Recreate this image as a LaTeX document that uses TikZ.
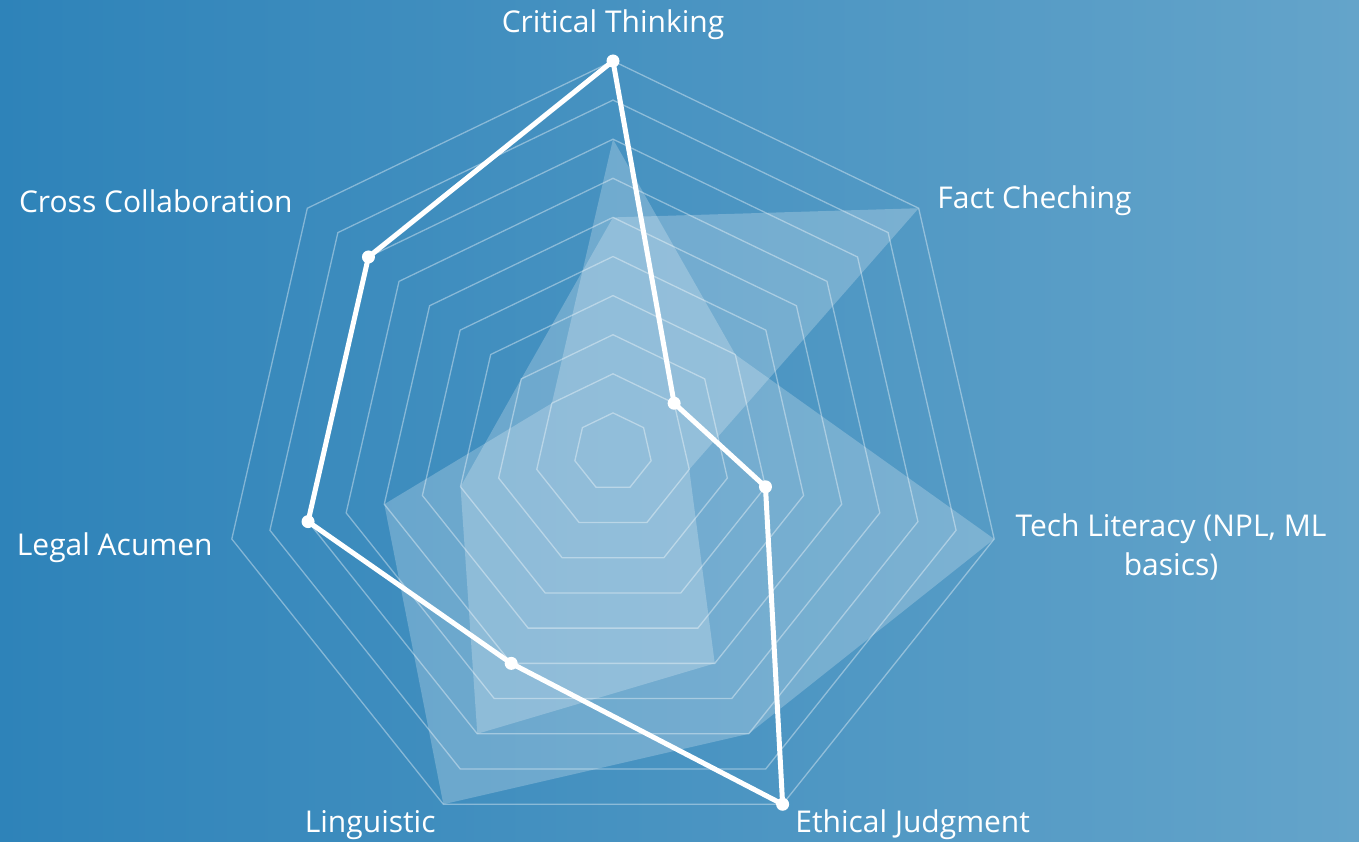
\documentclass[tikz,border=0pt]{standalone}
\usepackage{fontspec}
\setmainfont{Open Sans}
\definecolor{bgleft}{RGB}{46,131,185}
\definecolor{bgright}{RGB}{100,164,202}
\begin{document}
\begin{tikzpicture}[x=0.5pt,y=0.5pt,
    ring/.style={draw=white,draw opacity=0.38,line width=0.65pt},
    area/.style={fill=white,fill opacity=0.23},
    score/.style={draw=white,line width=2.5pt,line join=round},
    dot/.style={circle,fill=white,inner sep=0pt,minimum size=6.5pt},
    axislabel/.style={text=white,font=\fontsize{15}{19.5}\selectfont,inner sep=0pt}]
    % background
    \fill[left color=bgleft,right color=bgright] (-613,-389) rectangle (746,452);
    % rings
    \foreach \r in {1,...,10}
        \draw[ring] (90:39.1*\r) -- (38.571:39.1*\r) -- (-12.857:39.1*\r) -- (-64.286:39.1*\r)
            -- (-115.714:39.1*\r) -- (-167.143:39.1*\r) -- (141.429:39.1*\r) -- cycle;
    % first shaded series
    \coordinate (a1) at (90:312.8);
    \coordinate (a2) at (38.571:156.4);
    \coordinate (a3) at (-12.857:391);
    \coordinate (a4) at (-64.286:312.8);
    \coordinate (a5) at (-115.714:391);
    \coordinate (a6) at (-167.143:234.6);
    \coordinate (a7) at (141.429:78.2);
    \fill[area] (a1) -- (a2) -- (a3) -- (a4) -- (a5) -- (a6) -- (a7) -- cycle;
    % second shaded series
    \coordinate (b1) at (90:234.6);
    \coordinate (b2) at (38.571:391);
    \coordinate (b3) at (-12.857:78.2);
    \coordinate (b4) at (-64.286:234.6);
    \coordinate (b5) at (-115.714:312.8);
    \coordinate (b6) at (-167.143:156.4);
    \coordinate (b7) at (141.429:117.3);
    \fill[area] (b1) -- (b2) -- (b3) -- (b4) -- (b5) -- (b6) -- (b7) -- cycle;
    % white line series
    \coordinate (ct) at (90:391);
    \coordinate (fc) at (38.571:78.2);
    \coordinate (tl) at (-12.857:156.4);
    \coordinate (ej) at (-64.286:391);
    \coordinate (li) at (-115.714:234.6);
    \coordinate (la) at (-167.143:312.8);
    \coordinate (cc) at (141.429:312.8);
    \draw[score] (ct) -- (fc) -- (tl) -- (ej) -- (li) -- (la) -- (cc) -- cycle;
    \node[dot] (ctdot) at (ct) {};
    \node[dot] (fcdot) at (fc) {};
    \node[dot] (tldot) at (tl) {};
    \node[dot] (ejdot) at (ej) {};
    \node[dot] (lidot) at (li) {};
    \node[dot] (ladot) at (la) {};
    \node[dot] (ccdot) at (cc) {};
    % axis labels
    \node[axislabel] (ctlabel) at (0,427) {Critical Thinking};
    \node[axislabel,anchor=west] (fclabel) at (324,251) {Fact Cheching};
    \node[axislabel,align=center] (tllabel) at (558,-95) {Tech Literacy (NPL, ML\\basics)};
    \node[axislabel,anchor=west] (ejlabel) at (182,-373) {Ethical Judgment};
    \node[axislabel,anchor=east] (lilabel) at (-177,-373) {Linguistic};
    \node[axislabel,anchor=east] (lalabel) at (-400,-96) {Legal Acumen};
    \node[axislabel,anchor=east] (cclabel) at (-320,251) {Cross Collaboration};
\end{tikzpicture}
\end{document}
